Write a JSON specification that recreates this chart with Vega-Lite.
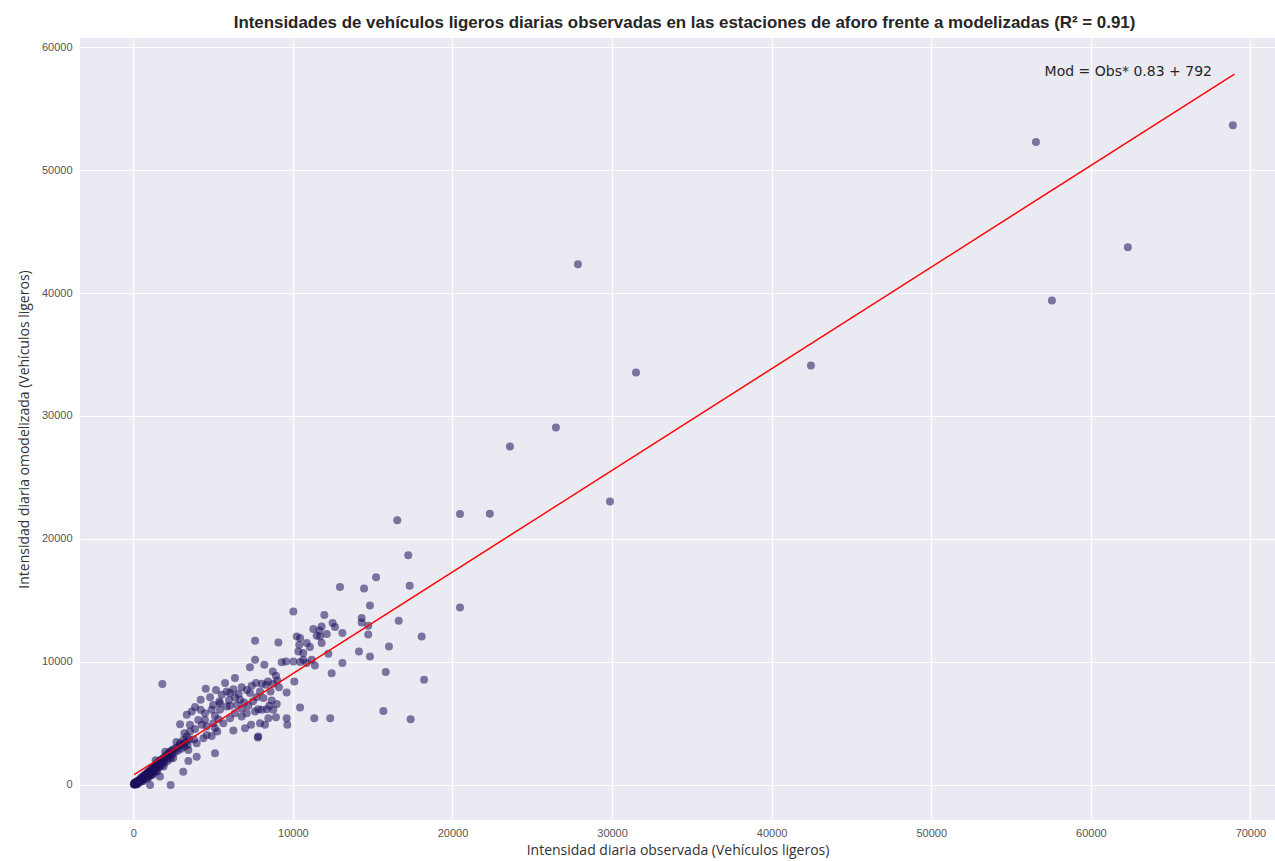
{
"$schema": "https://vega.github.io/schema/vega-lite/v6.json",
"autosize": {"type": "none"},
"padding": {"left": 80, "top": 38, "right": 0, "bottom": 41},
"width": 1195,
"height": 782,
"title": {"text": "Intensidades de vehículos ligeros diarias observadas en las estaciones de aforo frente a modelizadas (R² = 0.91)", "font": "Liberation Sans", "fontSize": 16.9, "fontWeight": "bold", "color": "#262626", "offset": 6, "dx": 7},
"datasets": {
"pts": [
{"obs":68900,"mod":53650},{"obs":56560,"mod":52270},{"obs":62320,"mod":43720},{"obs":57560,"mod":39400},{"obs":42460,"mod":34110},{"obs":27860,"mod":42330},{"obs":31500,"mod":33540},{"obs":26480,"mod":29060},{"obs":23600,"mod":27520},{"obs":29870,"mod":23040},{"obs":20470,"mod":22040},{"obs":22340,"mod":22060},{"obs":20470,"mod":14430},{"obs":16540,"mod":21520},
{"obs":17230,"mod":18670},{"obs":15210,"mod":16880},{"obs":12950,"mod":16100},{"obs":14460,"mod":15980},{"obs":17320,"mod":16200},{"obs":14830,"mod":14600},{"obs":11970,"mod":13820},{"obs":14310,"mod":13570},{"obs":14310,"mod":13210},{"obs":12490,"mod":13160},{"obs":12640,"mod":12840},{"obs":11800,"mod":12890},{"obs":11280,"mod":12680},{"obs":11490,"mod":12130},{"obs":12120,"mod":12270},{"obs":13100,"mod":12350},{"obs":14720,"mod":12940},{"obs":14720,"mod":12240},{"obs":16630,"mod":13350},{"obs":18070,"mod":12070},{"obs":10450,"mod":11940},{"obs":10870,"mod":11540},{"obs":11070,"mod":11210},{"obs":11800,"mod":11540},{"obs":11700,"mod":12070},{"obs":10650,"mod":10720},{"obs":10450,"mod":9990},{"obs":10870,"mod":9910},{"obs":11380,"mod":9710},{"obs":11180,"mod":10180},{"obs":12220,"mod":10670},{"obs":13100,"mod":9910},{"obs":12430,"mod":9090},{"obs":14140,"mod":10850},{"obs":14830,"mod":10450},{"obs":16020,"mod":11260},{"obs":15820,"mod":9180},{"obs":18220,"mod":8550},{"obs":15670,"mod":6020},{"obs":17380,"mod":5350},{"obs":10450,"mod":6290},{"obs":11340,"mod":5430},{"obs":12340,"mod":5430},
{"obs":10030,"mod":14110},{"obs":7630,"mod":11720},{"obs":9090,"mod":11590},{"obs":10240,"mod":12080},{"obs":11660,"mod":12560},{"obs":10400,"mod":11400},{"obs":10340,"mod":10850},{"obs":10030,"mod":10040},{"obs":9570,"mod":10040},{"obs":9300,"mod":9980},{"obs":10650,"mod":10180},{"obs":7630,"mod":10180},{"obs":8210,"mod":9770},{"obs":7310,"mod":9580},{"obs":10090,"mod":8410},{"obs":8740,"mod":9220},{"obs":8940,"mod":8870},{"obs":9020,"mod":8490},{"obs":9130,"mod":7950},{"obs":8770,"mod":8220},{"obs":8440,"mod":8410},{"obs":8320,"mod":8140},{"obs":8050,"mod":8220},{"obs":7690,"mod":8280},{"obs":7420,"mod":8060},{"obs":5750,"mod":8280},{"obs":6370,"mod":8690},{"obs":6790,"mod":7950},{"obs":6270,"mod":7790},{"obs":6060,"mod":7470},{"obs":6370,"mod":7140},{"obs":6690,"mod":6920},{"obs":6940,"mod":6700},{"obs":7210,"mod":6430},{"obs":4540,"mod":7820},{"obs":4810,"mod":7140},{"obs":5390,"mod":6780},{"obs":5850,"mod":7600},{"obs":7310,"mod":7470},{"obs":7730,"mod":7140},{"obs":8150,"mod":7060},{"obs":8670,"mod":6860},{"obs":8990,"mod":6590},{"obs":8520,"mod":6430},{"obs":8360,"mod":6160},{"obs":9610,"mod":7510},{"obs":8770,"mod":6110},{"obs":8940,"mod":5510},{"obs":9610,"mod":5430},{"obs":9650,"mod":4890},{"obs":7830,"mod":3930},{"obs":7800,"mod":3850},{"obs":7380,"mod":4890},{"obs":7000,"mod":4620},{"obs":6270,"mod":4420},{"obs":5640,"mod":5020},{"obs":5330,"mod":5350},{"obs":5120,"mod":5620},{"obs":4910,"mod":6110},{"obs":4490,"mod":5840},{"obs":4220,"mod":6110},{"obs":3870,"mod":6330},{"obs":3660,"mod":5970},{"obs":3350,"mod":5700},{"obs":4070,"mod":5290},{"obs":3550,"mod":4890},{"obs":3870,"mod":4540},{"obs":4600,"mod":4750},{"obs":5120,"mod":4620},{"obs":4910,"mod":3990},{"obs":5120,"mod":2580},{"obs":3970,"mod":2300},{"obs":2930,"mod":3400},{"obs":4390,"mod":3800},{"obs":5850,"mod":6370},{"obs":6370,"mod":5840},{"obs":6060,"mod":5430},{"obs":6790,"mod":5570},{"obs":7110,"mod":5840},{"obs":7630,"mod":5970},{"obs":8050,"mod":6110},{"obs":7940,"mod":5020},{"obs":8250,"mod":4890},{"obs":8460,"mod":5430},{"obs":5430,"mod":6110},{"obs":6480,"mod":6510},{"obs":5540,"mod":7330},{"obs":5180,"mod":7730},{"obs":7110,"mod":7730},{"obs":7940,"mod":7600},{"obs":4220,"mod":6920},
{"obs":2930,"mod":4940},{"obs":5430,"mod":6650},{"obs":6060,"mod":6430},{"obs":5260,"mod":4340},{"obs":5010,"mod":5020},{"obs":4490,"mod":5290},{"obs":3550,"mod":4340},{"obs":3350,"mod":3930},{"obs":3130,"mod":3660},{"obs":3970,"mod":3400},{"obs":3450,"mod":2850},{"obs":3450,"mod":1950},{"obs":3130,"mod":1080},{"obs":2340,"mod":0},{"obs":1050,"mod":0},{"obs":1670,"mod":680},{"obs":4600,"mod":4070},{"obs":7830,"mod":6160},{"obs":1820,"mod":8200},
{"obs":50,"mod":80},{"obs":80,"mod":150},{"obs":100,"mod":60},{"obs":120,"mod":200},{"obs":150,"mod":120},{"obs":180,"mod":250},{"obs":200,"mod":180},{"obs":220,"mod":90},{"obs":250,"mod":300},{"obs":280,"mod":220},{"obs":300,"mod":350},{"obs":320,"mod":150},{"obs":350,"mod":280},{"obs":380,"mod":420},{"obs":400,"mod":330},{"obs":430,"mod":250},{"obs":450,"mod":500},{"obs":480,"mod":400},{"obs":500,"mod":600},{"obs":530,"mod":450},{"obs":560,"mod":350},{"obs":580,"mod":650},{"obs":600,"mod":550},{"obs":630,"mod":700},{"obs":650,"mod":480},{"obs":680,"mod":620},{"obs":700,"mod":780},{"obs":720,"mod":550},{"obs":750,"mod":850},{"obs":780,"mod":700},{"obs":800,"mod":600},{"obs":820,"mod":900},{"obs":850,"mod":780},{"obs":880,"mod":950},{"obs":900,"mod":650},{"obs":920,"mod":1050},{"obs":950,"mod":850},{"obs":980,"mod":1100},{"obs":1000,"mod":900},{"obs":1020,"mod":700},{"obs":1050,"mod":1150},{"obs":1080,"mod":1000},{"obs":1100,"mod":1250},{"obs":1130,"mod":850},{"obs":1150,"mod":1100},{"obs":1180,"mod":1350},{"obs":1200,"mod":1200},{"obs":1230,"mod":950},{"obs":1250,"mod":1400},{"obs":1280,"mod":1250},{"obs":1300,"mod":1500},{"obs":1330,"mod":1100},{"obs":1350,"mod":1350},{"obs":1380,"mod":1600},{"obs":1400,"mod":1450},{"obs":1430,"mod":1200},{"obs":1450,"mod":1700},{"obs":1480,"mod":1550},{"obs":1500,"mod":1800},{"obs":1550,"mod":1400},{"obs":1580,"mod":1650},{"obs":1600,"mod":1900},{"obs":1650,"mod":1750},{"obs":1680,"mod":1500},{"obs":1700,"mod":2000},{"obs":1750,"mod":1850},{"obs":1780,"mod":1600},{"obs":1800,"mod":2100},{"obs":1850,"mod":1950},{"obs":1900,"mod":2200},{"obs":1950,"mod":1800},{"obs":2000,"mod":2300},{"obs":2050,"mod":2100},{"obs":2100,"mod":2450},{"obs":2150,"mod":1950},{"obs":2200,"mod":2550},{"obs":2250,"mod":2300},{"obs":2300,"mod":2700},{"obs":2350,"mod":2150},{"obs":2400,"mod":2800},{"obs":2450,"mod":2500},{"obs":2500,"mod":2900},{"obs":2600,"mod":2650},{"obs":2700,"mod":3050},{"obs":2800,"mod":2800},{"obs":2900,"mod":3200},{"obs":3000,"mod":2950},{"obs":3100,"mod":3300},{"obs":3200,"mod":3100},{"obs":3300,"mod":3500},{"obs":3400,"mod":3250},{"obs":3500,"mod":3700},
{"obs":30,"mod":30},{"obs":60,"mod":120},{"obs":90,"mod":40},{"obs":110,"mod":100},{"obs":140,"mod":40},{"obs":160,"mod":180},{"obs":190,"mod":90},{"obs":210,"mod":140},{"obs":240,"mod":60},{"obs":260,"mod":200},{"obs":600,"mod":300},{"obs":900,"mod":500},{"obs":1200,"mod":800},{"obs":1500,"mod":1100},{"obs":1900,"mod":1500},{"obs":2500,"mod":2200},{"obs":2000,"mod":2700},{"obs":2700,"mod":3500},{"obs":3200,"mod":4200},{"obs":1400,"mod":2000},
{"obs":6600,"mod":7400},{"obs":5000,"mod":6500},{"obs":7500,"mod":6800},{"obs":4300,"mod":4900},{"obs":6000,"mod":6900},{"obs":8600,"mod":7600},{"obs":3800,"mod":3700},{"obs":6800,"mod":6200}
],
"fit": [{"obs":50,"mod":834},{"obs":69000,"mod":57800}],
"note": [{"obs":67590,"mod":57960,"label":"Mod = Obs* 0.83 + 792"}]
},
"encoding": {
"x": {"field": "obs", "type": "quantitative", "scale": {"domain": [-3340, 71540], "nice": false, "zero": false},
"axis": {"values": [0,10000,20000,30000,40000,50000,60000,70000], "format": "d", "title": "Intensidad diaria observada (Vehículos ligeros)", "labelPadding": 7, "titlePadding": 5}},
"y": {"field": "mod", "type": "quantitative", "scale": {"domain": [-2850, 60735], "nice": false, "zero": false},
"axis": {"values": [0,10000,20000,30000,40000,50000,60000], "format": "d", "title": "Intensidad diaria omodelizada (Vehículos ligeros)", "labelPadding": 8, "titlePadding": 10}}
},
"layer": [
{"data": {"name": "pts"}, "mark": {"type": "circle", "size": 64, "color": "#1f0f5c", "opacity": 0.55}},
{"data": {"name": "fit"}, "mark": {"type": "line", "color": "#ff0000", "strokeWidth": 1.4}},
{"data": {"name": "note"}, "mark": {"type": "text", "align": "right", "baseline": "middle", "font": "DejaVu Sans", "fontSize": 14, "color": "#262626"}, "encoding": {"text": {"field": "label"}}}
],
"config": {
"view": {"fill": "#EAEAF2", "stroke": null},
"axis": {"domain": false, "ticks": false, "grid": true, "gridColor": "#ffffff", "gridWidth": 1.2, "labelColor": "#555555", "labelFont": "Liberation Sans", "labelFontSize": 11, "titleFont": "Open Sans", "titleFontSize": 14, "titleFontWeight": "normal", "titleColor": "#333333"}
}
}
